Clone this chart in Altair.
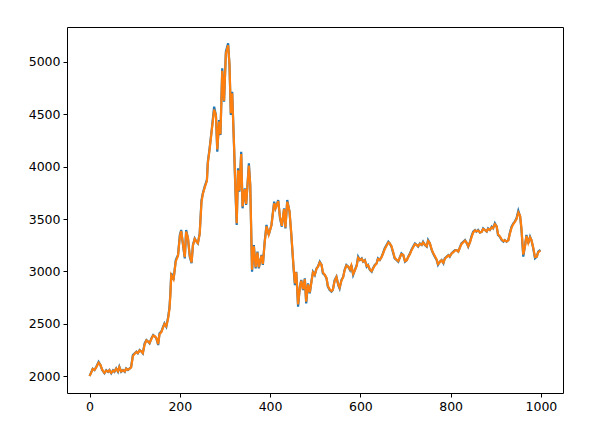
import altair as alt
import pandas as pd

idx = [
    0, 4, 7, 11, 15, 20, 24, 28, 33, 37,
    41, 44, 48, 52, 55, 59, 63, 66, 70, 74,
    78, 81, 85, 89, 92, 96, 100, 104, 107, 111,
    115, 118, 122, 126, 130, 133, 137, 141, 145, 148,
    152, 155, 159, 163, 166, 170, 174, 177, 179, 181,
    186, 191, 196, 200, 203, 207, 211, 214, 218, 222,
    226, 229, 233, 237, 240, 244, 248, 251, 255, 260,
    262, 266, 271, 276, 280, 283, 287, 290, 294, 298,
    302, 307, 310, 313, 316, 320, 323, 326, 329, 332,
    336, 339, 344, 347, 353, 356, 360, 364, 368, 372,
    375, 381, 384, 388, 392, 397, 403, 409, 412, 418,
    422, 426, 431, 434, 438, 443, 447, 452, 455, 458,
    462, 466, 469, 473, 477, 480, 484, 488, 492, 495,
    499, 503, 506, 510, 514, 517, 521, 525, 528, 532,
    536, 539, 543, 547, 551, 554, 558, 562, 565, 569,
    573, 577, 580, 584, 588, 592, 595, 599, 603, 606,
    610, 614, 617, 621, 625, 628, 632, 636, 639, 643,
    647, 650, 654, 658, 662, 665, 669, 673, 676, 680,
    684, 688, 691, 695, 699, 703, 706, 710, 713, 717,
    721, 725, 728, 732, 736, 739, 743, 747, 750, 754,
    758, 761, 765, 769, 772, 776, 780, 784, 787, 791,
    795, 798, 802, 806, 810, 813, 817, 821, 824, 828,
    832, 836, 839, 843, 846, 850, 854, 857, 861, 865,
    869, 872, 876, 880, 883, 887, 891, 894, 898, 902,
    905, 909, 913, 917, 920, 924, 928, 931, 935, 939,
    942, 946, 950, 954, 957, 961, 965, 968, 972, 976,
    979, 983, 987, 991, 994, 999,
]

actual = [
    2000, 2040, 2070, 2057, 2089, 2135, 2105, 2057, 2026, 2055,
    2040, 2057, 2026, 2055, 2041, 2073, 2041, 2089, 2041, 2057,
    2041, 2073, 2057, 2073, 2085, 2201, 2217, 2233, 2217, 2248,
    2233, 2217, 2312, 2344, 2328, 2312, 2360, 2392, 2376, 2360,
    2296, 2408, 2424, 2471, 2503, 2471, 2560, 2650, 2790, 2984,
    2917, 3108, 3156, 3347, 3395, 3252, 3124, 3395, 3315, 3140,
    3077, 3252, 3315, 3283, 3267, 3363, 3681, 3745, 3809, 3873,
    4047, 4175, 4366, 4573, 4493, 4143, 4446, 4302, 4940, 4621,
    5098, 5178, 4971, 4493, 4716, 4207, 3793, 3443, 3984, 3760,
    4143, 3602, 3793, 3634, 4031, 3825, 2996, 3252, 3029, 3188,
    3029, 3156, 3061, 3283, 3443, 3347, 3443, 3665, 3602, 3681,
    3507, 3427, 3602, 3411, 3681, 3570, 3347, 3029, 2869, 2996,
    2662, 2853, 2917, 2821, 2933, 2694, 2885, 2790, 2917, 2996,
    2965, 3029, 3045, 3092, 3061, 2981, 2965, 2933, 2853, 2821,
    2805, 2821, 2917, 2949, 2869, 2837, 2917, 2949, 3013, 3061,
    3045, 3013, 3061, 2965, 3013, 3061, 3140, 3108, 3124, 3092,
    3108, 3045, 3061, 3013, 2996, 3029, 3061, 3077, 3124, 3108,
    3140, 3172, 3220, 3252, 3283, 3267, 3236, 3172, 3124, 3108,
    3092, 3140, 3172, 3156, 3092, 3108, 3140, 3172, 3204, 3236,
    3267, 3252, 3236, 3267, 3252, 3283, 3252, 3236, 3299, 3267,
    3204, 3172, 3140, 3108, 3061, 3092, 3108, 3077, 3124, 3140,
    3156, 3140, 3172, 3188, 3204, 3204, 3188, 3236, 3267, 3283,
    3299, 3267, 3236, 3283, 3331, 3379, 3395, 3379, 3395, 3370,
    3379, 3411, 3395, 3379, 3411, 3395, 3427, 3411, 3459, 3427,
    3347, 3331, 3299, 3283, 3299, 3283, 3299, 3363, 3427, 3459,
    3475, 3507, 3579, 3523, 3395, 3140, 3252, 3347, 3267, 3331,
    3299, 3220, 3124, 3140, 3188, 3204,
]

predicted = [
    2000, 2035, 2068, 2060, 2085, 2128, 2108, 2060, 2030, 2052,
    2042, 2055, 2030, 2052, 2044, 2070, 2045, 2085, 2045, 2055,
    2044, 2070, 2060, 2070, 2082, 2190, 2214, 2230, 2220, 2244,
    2235, 2220, 2300, 2340, 2330, 2315, 2355, 2388, 2378, 2362,
    2305, 2400, 2420, 2465, 2498, 2475, 2550, 2640, 2770, 2965,
    2925, 3095, 3150, 3330, 3385, 3260, 3135, 3380, 3320, 3150,
    3085, 3245, 3310, 3285, 3270, 3355, 3660, 3740, 3800, 3865,
    4030, 4165, 4355, 4545, 4490, 4165, 4430, 4310, 4915, 4630,
    5080, 5160, 4980, 4510, 4700, 4220, 3810, 3460, 3965, 3770,
    4120, 3620, 3785, 3645, 4010, 3830, 3015, 3240, 3040, 3180,
    3040, 3150, 3070, 3275, 3430, 3350, 3440, 3650, 3605, 3670,
    3515, 3435, 3595, 3420, 3665, 3575, 3360, 3045, 2885, 2990,
    2685, 2845, 2910, 2830, 2925, 2710, 2875, 2800, 2910, 2990,
    2968, 3025, 3042, 3085, 3063, 2990, 2968, 2938, 2862, 2828,
    2812, 2825, 2908, 2945, 2875, 2845, 2910, 2945, 3008, 3055,
    3046, 3018, 3055, 2975, 3010, 3055, 3130, 3110, 3120, 3095,
    3105, 3052, 3058, 3020, 3002, 3025, 3056, 3075, 3118, 3110,
    3135, 3168, 3212, 3245, 3275, 3268, 3240, 3180, 3130, 3112,
    3098, 3135, 3165, 3158, 3098, 3106, 3136, 3166, 3198, 3230,
    3260, 3252, 3240, 3262, 3254, 3276, 3255, 3240, 3290, 3268,
    3210, 3178, 3146, 3114, 3070, 3088, 3104, 3082, 3118, 3136,
    3152, 3142, 3168, 3184, 3200, 3202, 3190, 3230, 3260, 3278,
    3294, 3270, 3240, 3278, 3322, 3370, 3390, 3382, 3390, 3372,
    3378, 3405, 3396, 3382, 3405, 3396, 3420, 3412, 3450, 3430,
    3355, 3335, 3305, 3288, 3296, 3286, 3296, 3355, 3418, 3452,
    3470, 3500, 3562, 3530, 3410, 3160, 3245, 3338, 3272, 3325,
    3300, 3228, 3135, 3140, 3182, 3200,
]

x_ticks = [0, 200, 400, 600, 800, 1000]
y_ticks = [2000, 2500, 3000, 3500, 4000, 4500, 5000]

df = pd.DataFrame({"x": idx, "actual": actual, "predicted": predicted})

xs = alt.X("x:Q", scale=alt.Scale(domain=[-50, 1049], nice=False, zero=False),
           axis=alt.Axis(values=x_ticks, format="d", title=None))
yscale = alt.Scale(domain=[1838, 5334], nice=False, zero=False)
yax = alt.Axis(values=y_ticks, format="d", title=None)

blue = alt.Chart(df).mark_line(color="#1f77b4", strokeWidth=2.2).encode(
    x=xs, y=alt.Y("actual:Q", scale=yscale, axis=yax))
orange = alt.Chart(df).mark_line(color="#ff7f0e", strokeWidth=2.2).encode(
    x=xs, y=alt.Y("predicted:Q", scale=yscale, axis=yax))

chart = alt.layer(blue, orange).properties(
    width=496, height=366,
    autosize=alt.AutoSizeParams(type="none"),
    padding={"left": 59, "top": 19, "right": 20, "bottom": 21},
    background="white",
).configure_view(
    stroke="black", strokeWidth=1, strokeOpacity=1
).configure_axis(
    grid=False, domain=False, tickColor="black", tickOpacity=1, tickWidth=1,
    tickSize=4, labelColor="black", labelPadding=3, labelFontSize=12.5,
    labelFont="DejaVu Sans",
)

chart.save("out.html", embed_options={"renderer": "svg", "actions": False})
